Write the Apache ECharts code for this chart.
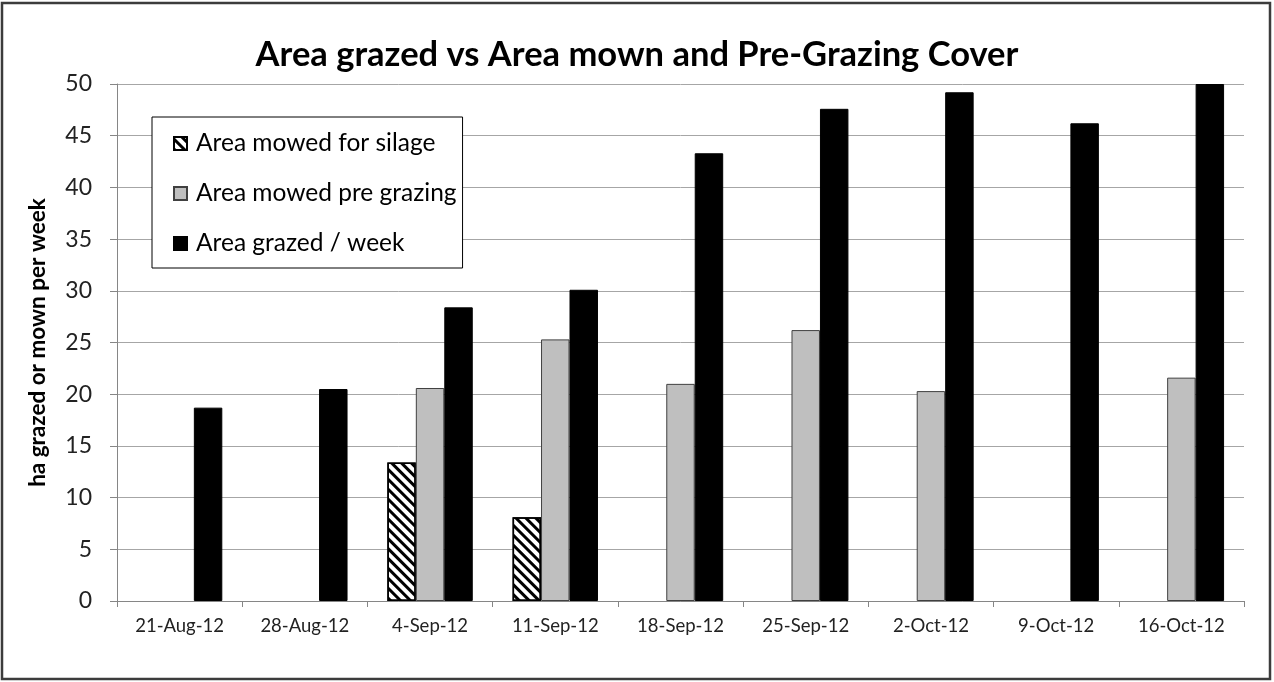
<!DOCTYPE html>
<html>
<head>
<meta charset="utf-8">
<script src="https://cdn.jsdelivr.net/npm/echarts@6/dist/echarts.min.js"></script>
<style>
  html, body { margin: 0; padding: 0; background: #fff; }
  #chart { width: 1274px; height: 682px; }
</style>
</head>
<body>
<div id="chart"></div>
<script>
// weekly dates on the x axis
const weeks = ['21-Aug-12', '28-Aug-12', '4-Sep-12', '11-Sep-12', '18-Sep-12',
               '25-Sep-12', '2-Oct-12', '9-Oct-12', '16-Oct-12']
// ha per week, null = no bar that week
const mowedSilage = [null, null, 13.4, 8.1, null, null, null, null, null]
const mowedPreGrazing = [null, null, 20.6, 25.3, 21.0, 26.2, 20.3, null, 21.6]
const grazedPerWeek = [18.7, 20.5, 28.4, 30.1, 43.3, 47.6, 49.2, 46.2, 50.0]

const FONT = 'Lato'
const axisGrey = '#868686'

let chart = echarts.init(document.getElementById('chart'))

let options = {
    backgroundColor: '#fff',
    animation: false,
    title: {
        text: 'Area grazed vs Area mown and Pre-Grazing Cover',
        left: 'center',
        top: 32,
        textStyle: {
            fontFamily: FONT,
            fontSize: 34.5,
            fontWeight: 'bold',
            color: '#000'
        }
    },
    graphic: [{
        type: 'rect',
        shape: {x: 2, y: 3, width: 1268, height: 676},
        style: {fill: 'none', stroke: '#3c3c3c', lineWidth: 2.5},
        silent: true
    }],
    legend: {
        orient: 'vertical',
        left: 152,
        top: 117,
        padding: [14, 6, 12, 21],
        itemGap: 25,
        itemWidth: 13,
        itemHeight: 13,
        icon: 'rect',
        borderColor: '#000',
        borderWidth: 1,
        backgroundColor: '#fff',
        textStyle: {
            fontFamily: FONT,
            fontSize: 24.5,
            lineHeight: 24,
            padding: [0, 0, 0, 4],
            color: '#000'
        },
        data: ['Area mowed for silage', 'Area mowed pre grazing', 'Area grazed / week']
    },
    grid: {
        left: 117,
        right: 30,
        top: 84,
        bottom: 81
    },
    xAxis: {
        type: 'category',
        data: weeks,
        axisLine: {lineStyle: {color: axisGrey, width: 1}},
        axisTick: {show: true, length: 6, lineStyle: {color: axisGrey}},
        axisLabel: {
            fontFamily: FONT,
            fontSize: 18.5,
            color: '#222',
            margin: 16
        }
    },
    yAxis: {
        type: 'value',
        min: 0,
        max: 50,
        interval: 5,
        name: 'ha grazed or mown per week',
        nameLocation: 'middle',
        nameGap: 68,
        nameTextStyle: {
            fontFamily: FONT,
            fontSize: 22.5,
            fontWeight: 'bold',
            color: '#000'
        },
        axisLine: {show: true, lineStyle: {color: axisGrey, width: 1}},
        axisTick: {show: true, length: 7, lineStyle: {color: axisGrey}},
        splitLine: {lineStyle: {color: '#a6a6a6', width: 1}},
        axisLabel: {
            fontFamily: FONT,
            fontSize: 23,
            color: '#222',
            margin: 25
        }
    },
    series: [
        {
            name: 'Area mowed for silage',
            type: 'bar',
            barGap: '0%',
            itemStyle: {
                color: '#fff',
                borderColor: '#000',
                borderWidth: 1.5,
                decal: {
                    symbol: 'rect',
                    symbolSize: 1,
                    dashArrayX: [1, 0],
                    dashArrayY: [3, 4],
                    rotation: Math.PI / 4,
                    color: '#000'
                }
            },
            data: mowedSilage
        },
        {
            name: 'Area mowed pre grazing',
            type: 'bar',
            barGap: '0%',
            itemStyle: {
                color: '#bfbfbf',
                borderColor: '#404040',
                borderWidth: 1
            },
            data: mowedPreGrazing
        },
        {
            name: 'Area grazed / week',
            type: 'bar',
            barGap: '0%',
            barCategoryGap: '31.8%',
            itemStyle: {
                color: '#000',
                borderColor: '#000',
                borderWidth: 1
            },
            data: grazedPerWeek
        }
    ]
}

chart.setOption(options)
</script>
</body>
</html>
